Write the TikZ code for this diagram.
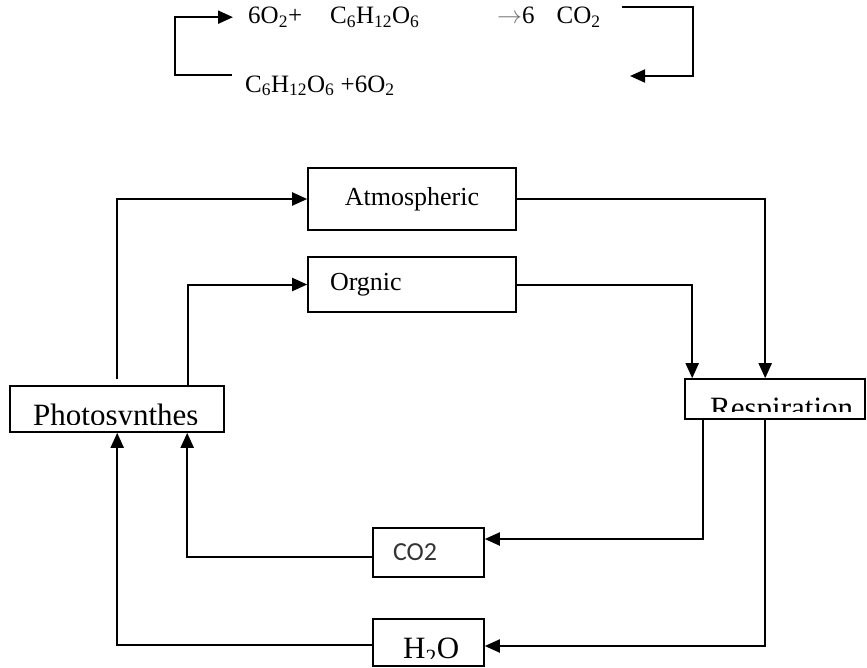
\documentclass[tikz,border=0pt]{standalone}
\usepackage{fontspec}
\setmainfont{Liberation Serif}
\newfontfamily\calibrifont{Carlito}
\usetikzlibrary{arrows.meta,positioning}

\tikzset{
  flow/.style={draw,line width=1.6pt,inner sep=0pt},
  link/.style={-{Triangle[length=15pt,width=13pt]},line width=2pt},
  eqtext/.style={anchor=base west,inner sep=0pt,font=\fontsize{25}{30}\selectfont},
  cuttext/.style={anchor=base west,inner sep=0pt,font=\fontsize{31}{36}\selectfont}
}

\begin{document}
\begin{tikzpicture}[x=1pt,y=-1pt]
  \useasboundingbox (0,0) rectangle (867,667);
  % reaction at the top
  \node[eqtext] (reac) at (248,23.5) {6O\textsubscript{2}+\hspace{28pt}C\textsubscript{6}H\textsubscript{12}O\textsubscript{6}};
  \node[eqtext] (prod) at (497,23.5) {{\color{black!55}$\rightarrow$}6\hspace{22pt}CO\textsubscript{2}};
  \node[eqtext] (back) at (245,92) {C\textsubscript{6}H\textsubscript{12}O\textsubscript{6} +6O\textsubscript{2}};
  \coordinate (retn) at (630,76);
  \draw[link] ([xshift=-13pt]back.north west) -- ++(-57,0) |- ([xshift=-15pt]reac.west);
  \draw[link] ([xshift=21pt]prod.north east) -- ++(71,0) |- (retn);

  % boxes
  \node[flow,minimum width=208pt,minimum height=62pt,font=\fontsize{26}{30}\selectfont] (atm) at (412,199) {Atmospheric};
  \node[flow,minimum height=55pt,text width=164pt,inner xsep=22pt,align=left,font=\fontsize{26}{30}\selectfont] (org) at (412,284.5) {Orgnic};
  \node[flow,minimum width=214pt,minimum height=46pt] (photo) at (117,409) {};
  \node[flow,minimum width=180pt,minimum height=40pt] (resp) at (775,399) {};
  \node[flow,minimum height=49pt,text width=71pt,inner xsep=20pt,align=left,font=\calibrifont\fontsize{26}{30}\selectfont,text=black!80] (co2) at (428.5,552.5) {\raisebox{-6pt}{CO2}};
  \node[flow,minimum width=111pt,minimum height=47pt] (h2o) at (428.5,642.5) {};

  % texts cut off by the box bottoms
  \begin{scope}
    \clip ([yshift=8pt]photo.south west) rectangle (photo.north east);
    \node[cuttext] (phototext) at (33,425) {Photosynthes};
  \end{scope}
  \begin{scope}
    \clip ([yshift=8pt]resp.south west) rectangle (resp.north east);
    \node[cuttext] (resptext) at (710,418.5) {Respiration};
  \end{scope}
  \begin{scope}
    \clip ([yshift=8pt]h2o.south west) rectangle (h2o.north east);
    \node[cuttext] (h2otext) at (403,658.5) {H\textsubscript{2}O};
  \end{scope}

  % cycle
  \draw[link,shorten <=6pt] ([xshift=108pt]photo.north west) |- (atm.west);
  \draw[link] ([xshift=179pt]photo.north west) |- (org.west);
  \draw[link] (atm.east) -| ([xshift=81pt]resp.north west);
  \draw[link] (org.east) -| ([xshift=8pt]resp.north west);
  \draw[link] ([xshift=19pt]resp.south west) |- ([yshift=13.5pt]co2.east);
  \draw[link] ([xshift=81pt]resp.south west) |- ([yshift=-3.5pt]h2o.east);
  \draw[link] ([yshift=-4.5pt]co2.west) -| ([xshift=178pt]photo.south west);
  \draw[link] ([yshift=-2.5pt]h2o.west) -| ([xshift=108pt]photo.south west);
\end{tikzpicture}
\end{document}
